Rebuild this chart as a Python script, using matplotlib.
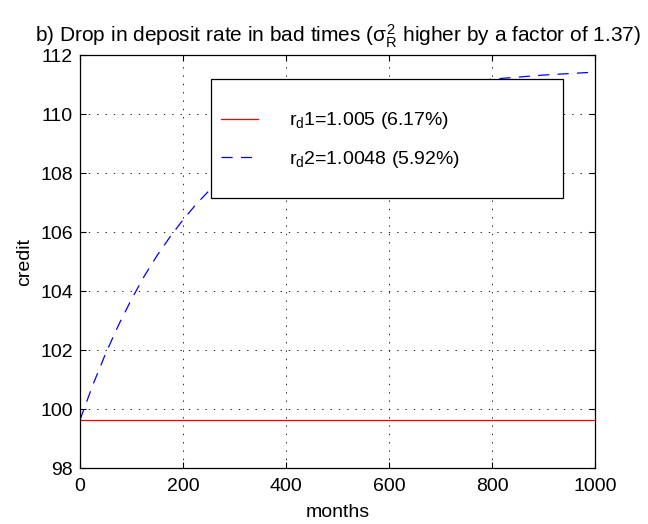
import numpy as np
import matplotlib
matplotlib.use("Agg")
import matplotlib.pyplot as plt
from matplotlib.patches import Rectangle

plt.rcParams['font.family'] = ['Liberation Sans', 'DejaVu Sans']
plt.rcParams['mathtext.fontset'] = 'custom'
plt.rcParams['mathtext.rm'] = 'Liberation Sans'
plt.rcParams['mathtext.it'] = 'Liberation Sans'
plt.rcParams['mathtext.sf'] = 'Liberation Sans'
plt.rcParams['lines.scale_dashes'] = False

# months
months = [0, 25, 50, 75, 100, 125, 150, 175, 200, 225, 250, 275, 300,
          350, 400, 500, 600, 700, 800, 900, 1000]
# credit, rd2 case (middle part hidden by legend)
credit2 = [99.63, 100.82, 101.89, 102.85, 103.72, 104.51, 105.21, 105.84,
           106.41, 106.93, 107.39, 107.81, 108.19, 108.83, 109.36, 110.12,
           110.63, 110.96, 111.18, 111.32, 111.42]
# credit, rd1 case: flat
months1 = [0, 1000]
credit1 = [99.63, 99.63]

labels = ['r$_\\mathrm{d}$1=1.005 (6.17%)', 'r$_\\mathrm{d}$2=1.0048 (5.92%)']
title = 'b) Drop in deposit rate in bad times ($\\sigma_R^2$ higher by a factor of 1.37)'

fig = plt.figure(figsize=(6.48, 5.24), dpi=100)
ax = fig.add_axes([80/648, 56/524, 515/648, 413/524])

l1, = ax.plot(months1, credit1, color='#ff0000', lw=0.9)
l2, = ax.plot(months, credit2, color='#0000ff', lw=0.9, dashes=(8, 6))

ax.set_xlim(0, 1000)
ax.set_ylim(98, 112)
ax.set_xticks(np.arange(0, 1001, 200))
ax.set_yticks(np.arange(98, 113, 2))
ax.grid(True, color='black', linestyle=(0, (1, 5)), linewidth=0.6)
ax.tick_params(direction='in', length=4, width=0.8, top=True, right=True,
               labelsize=14, colors='black')
ax.tick_params(axis='x', pad=7.5)
ax.tick_params(axis='y', pad=5)
for s in ax.spines.values():
    s.set_linewidth(0.9)

ax.set_xlabel('months', fontsize=14, labelpad=6)
ax.set_ylabel('credit', fontsize=14, labelpad=5)
ax.set_title(title, fontsize=15, pad=9)

# legend box like matlab
ax.add_patch(Rectangle((0.2544, 0.6538), 0.6835, 0.2881, transform=ax.transAxes,
                       facecolor='white', edgecolor='black', lw=0.9, zorder=5))
leg = ax.legend([l1, l2], labels, loc='center left', bbox_to_anchor=(0.273, 0.794),
                frameon=False, fontsize=14, borderpad=0, borderaxespad=0,
                handlelength=1.9, handletextpad=1.6, labelspacing=0.9)
leg.set_zorder(6)

fig.savefig('out.png', dpi=100)
